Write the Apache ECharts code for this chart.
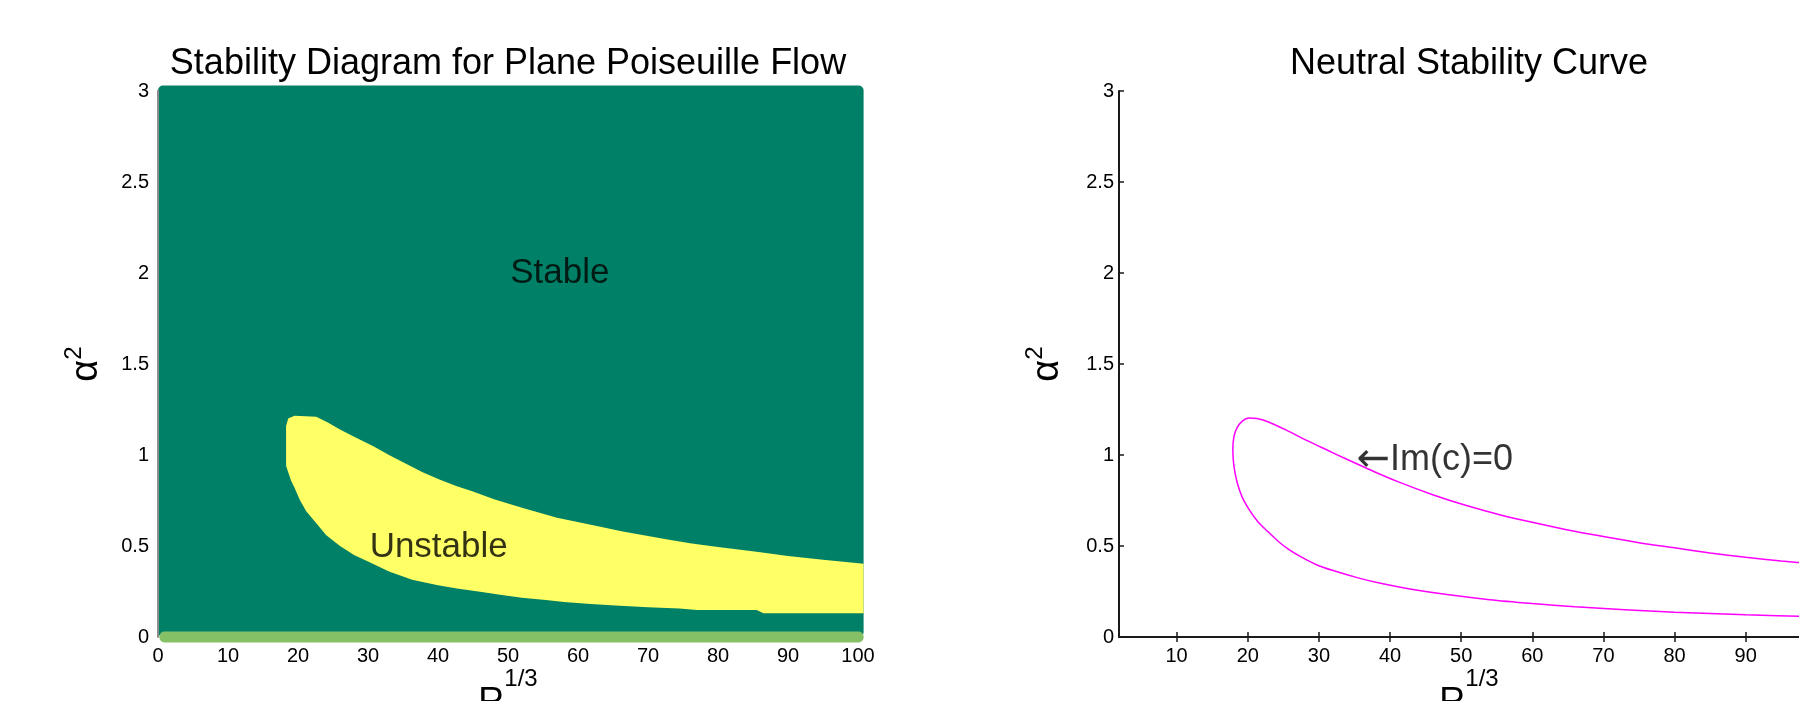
<!DOCTYPE html>
<html><head><meta charset="utf-8">
<script src="https://cdn.jsdelivr.net/npm/echarts@6/dist/echarts.min.js"></script>
<style>html,body{margin:0;padding:0;background:#fff}#c{width:1799px;height:701px}</style>
</head><body><div id="c"></div>
<script>
// ---- data ----
const leftXTicks = [0,10,20,30,40,50,60,70,80,90,100];
const rightXTicks = [10,20,30,40,50,60,70,80,90,100];
const yTicks = [0,0.5,1,1.5,2,2.5,3];

const stableRegionX = [0, 100.8];
const stableRegionY = [0, 3.03];
const zeroRowX = [0.2, 100.8];
const zeroRowY = [-0.03, 0.03];

const unstableUpperX = [18.3, 18.6, 19.5, 22.6, 24.2, 26.0, 28.3, 30.7, 33.0, 35.5, 37.8, 40.2, 42.6, 45.0, 48.0, 52.0, 57.0, 62.0, 66.4, 72.6, 76.0, 80.0, 85.5, 90.0, 95.0, 100.8];
const unstableUpperY = [1.16, 1.20, 1.215, 1.21, 1.18, 1.14, 1.095, 1.05, 1.0, 0.95, 0.905, 0.865, 0.83, 0.80, 0.757, 0.71, 0.655, 0.615, 0.58, 0.537, 0.515, 0.495, 0.469, 0.445, 0.425, 0.403];
const unstableLowerX = [18.3, 19.0, 19.5, 20.3, 21.2, 22.5, 24.0, 26.0, 28.0, 30.0, 33.0, 36.3, 40.0, 42.7, 46.0, 49.1, 52.0, 55.4, 58.0, 61.8, 66.0, 70.0, 74.5, 77.0, 85.5, 86.5, 100.8];
const unstableLowerY = [0.94, 0.86, 0.82, 0.75, 0.69, 0.63, 0.56, 0.50, 0.45, 0.415, 0.36, 0.315, 0.285, 0.267, 0.248, 0.231, 0.216, 0.203, 0.192, 0.181, 0.172, 0.164, 0.157, 0.148, 0.148, 0.13, 0.13];

const neutralX = [100.3, 90, 80, 73, 66, 60, 54, 48, 43, 39, 35.5, 32, 29.5, 27.5, 25.8, 24.3, 22.8, 21.4, 20.2, 19.2, 18.5, 18.05, 17.9, 18.05, 18.5, 19.2, 20.2, 21.3, 23, 25.5, 28.2, 31, 34, 37, 41, 46, 50.5, 55.4, 60, 65, 70, 75, 80, 85, 90, 95, 100.3];
const neutralY = [0.112, 0.122, 0.136, 0.150, 0.166, 0.184, 0.205, 0.233, 0.262, 0.292, 0.325, 0.365, 0.40, 0.44, 0.48, 0.525, 0.58, 0.635, 0.70, 0.77, 0.85, 0.94, 1.03, 1.10, 1.15, 1.185, 1.203, 1.20, 1.18, 1.135, 1.082, 1.03, 0.975, 0.922, 0.855, 0.782, 0.725, 0.672, 0.63, 0.588, 0.552, 0.518, 0.49, 0.462, 0.438, 0.418, 0.40];

const regionLabels = [{name: 'Stable', value: [57.4, 2.0]}, {name: 'Unstable', value: [40.1, 0.494]}];
const curveLabels = [{name: '\u2190Im(c)=0', value: [35.3, 0.97]}];

// ---- chart ----
const FONT = 'Liberation Sans, Arial, Helvetica, sans-serif';
const chart = echarts.init(document.getElementById('c'), null, {renderer: 'canvas'});

function rectItem(xr, yr, color, r) {
  return function (params, api) {
    const p0 = api.coord([xr[0], yr[1]]);
    const p1 = api.coord([xr[1], yr[0]]);
    return {type: 'rect', shape: {x: p0[0], y: p0[1], width: p1[0] - p0[0], height: p1[1] - p0[1], r: r}, style: {fill: color}};
  };
}

const labelStyle = {fontFamily: FONT, fontSize: 20, color: '#000'};
const alphaName = '{a|\u03b1}{s|2}';
const rName = '{r|R}{s|1/3}';
const alphaRich = {
  a: {fontFamily: FONT, fontSize: 38, lineHeight: 38, padding: [11, 0, 0, 0], color: '#000'},
  s: {fontFamily: FONT, fontSize: 24, lineHeight: 24, verticalAlign: 'top', color: '#000'}
};
const rRich = {
  r: {fontFamily: FONT, fontSize: 36, lineHeight: 72, color: '#000'},
  s: {fontFamily: FONT, fontSize: 24, lineHeight: 24, verticalAlign: 'top', color: '#000'}
};
const darkLine = {show: true, lineStyle: {color: '#1a1a1a', width: 2}};
const darkTick = {color: '#1a1a1a', width: 1.5};

const option = {
  animation: false,
  backgroundColor: '#fff',
  title: [
    {text: 'Stability Diagram for Plane Poiseuille Flow', left: 508, top: 44, textAlign: 'center', padding: 0,
     textStyle: {fontFamily: FONT, fontSize: 36, fontWeight: 'normal', color: '#000', lineHeight: 40}},
    {text: 'Neutral Stability Curve', left: 1469, top: 44, textAlign: 'center', padding: 0,
     textStyle: {fontFamily: FONT, fontSize: 36, fontWeight: 'normal', color: '#000', lineHeight: 40}}
  ],
  grid: [
    {left: 158, top: 91, width: 700, height: 546, outerBoundsMode: 'none'},
    {left: 1119, top: 91, width: 700, height: 546, outerBoundsMode: 'none'}
  ],
  xAxis: [
    {type: 'value', gridIndex: 0, min: 0, max: 100, position: 'bottom',
     axisLine: {show: false}, axisTick: {show: false}, splitLine: {show: false},
     axisLabel: Object.assign({customValues: leftXTicks, margin: 9}, labelStyle),
     name: rName, nameLocation: 'middle', nameGap: 30, nameMoveOverlap: false, nameTextStyle: {rich: rRich}},
    {type: 'value', gridIndex: 1, min: 1.9, max: 100.3, position: 'bottom',
     axisLine: darkLine, splitLine: {show: false},
     axisTick: {customValues: rightXTicks, inside: true, length: 5, lineStyle: darkTick},
     axisLabel: Object.assign({customValues: rightXTicks, margin: 9}, labelStyle),
     name: rName, nameLocation: 'middle', nameGap: 30, nameMoveOverlap: false, nameTextStyle: {rich: rRich}},
    {type: 'value', gridIndex: 1, min: 1.9, max: 100.3, position: 'top',
     axisLine: darkLine, splitLine: {show: false},
     axisTick: {customValues: rightXTicks, inside: true, length: 5, lineStyle: darkTick},
     axisLabel: {show: false}}
  ],
  yAxis: [
    {type: 'value', gridIndex: 0, min: 0, max: 3, interval: 0.5, z: 5,
     axisLine: {show: true, lineStyle: {color: '#8c8c8c', width: 2}}, axisTick: {show: false}, splitLine: {show: false},
     axisLabel: Object.assign({margin: 9}, labelStyle),
     name: alphaName, nameLocation: 'middle', nameGap: 58, nameMoveOverlap: false, nameTextStyle: {rich: alphaRich}},
    {type: 'value', gridIndex: 1, min: 0, max: 3, interval: 0.5, position: 'left',
     axisLine: darkLine, splitLine: {show: false},
     axisTick: {inside: true, length: 5, lineStyle: darkTick},
     axisLabel: Object.assign({margin: 5}, labelStyle),
     name: alphaName, nameLocation: 'middle', nameGap: 58, nameMoveOverlap: false, nameTextStyle: {rich: alphaRich}},
    {type: 'value', gridIndex: 1, min: 0, max: 3, interval: 0.5, position: 'right',
     axisLine: darkLine, splitLine: {show: false},
     axisTick: {inside: true, length: 5, lineStyle: darkTick},
     axisLabel: {show: false}}
  ],
  series: [
    {type: 'custom', name: 'Stable', xAxisIndex: 0, yAxisIndex: 0, silent: true, clip: false, z: 1,
     renderItem: rectItem(stableRegionX, stableRegionY, '#008066', 5), data: [[stableRegionX[0], stableRegionY[0]]]},
    {type: 'custom', name: 'Zero row', xAxisIndex: 0, yAxisIndex: 0, silent: true, clip: false, z: 2,
     renderItem: rectItem(zeroRowX, zeroRowY, '#86c066', 5), data: [[zeroRowX[0], zeroRowY[0]]]},
    {type: 'custom', name: 'Unstable', xAxisIndex: 0, yAxisIndex: 0, silent: true, clip: false, z: 3,
     renderItem: function (params, api) {
       const pts = [];
       for (let i = 0; i < unstableUpperX.length; i++) pts.push(api.coord([unstableUpperX[i], unstableUpperY[i]]));
       for (let i = unstableLowerX.length - 1; i >= 0; i--) pts.push(api.coord([unstableLowerX[i], unstableLowerY[i]]));
       return {type: 'polygon', shape: {points: pts, smooth: 0}, style: {fill: '#ffff66'}};
     },
     data: [[unstableUpperX[0], unstableUpperY[0]]]},
    {type: 'scatter', xAxisIndex: 0, yAxisIndex: 0, symbolSize: 0, silent: true, z: 6,
     label: {show: true, position: 'inside', formatter: p => p.name, fontFamily: FONT, fontSize: 35, color: '#000'},
     data: regionLabels},
    {type: 'line', name: 'Im(c)=0', xAxisIndex: 1, yAxisIndex: 1, showSymbol: false, smooth: 0.3, silent: true,
     lineStyle: {color: '#ff00ff', width: 1.5}, itemStyle: {color: '#ff00ff'},
     data: neutralX.map((x, i) => [x, neutralY[i]])},
    {type: 'scatter', xAxisIndex: 1, yAxisIndex: 1, symbolSize: 0, silent: true, z: 6,
     label: {show: true, position: 'right', distance: 0,
       formatter: p => '{ar|' + p.name.charAt(0) + '}{t|' + p.name.slice(1) + '}',
       rich: {
         ar: {fontFamily: 'DejaVu Sans', fontSize: 40, color: '#000'},
         t: {fontFamily: FONT, fontSize: 36, color: '#000'}
       }},
     data: curveLabels}
  ]
};
chart.setOption(option);
</script>
</body></html>
